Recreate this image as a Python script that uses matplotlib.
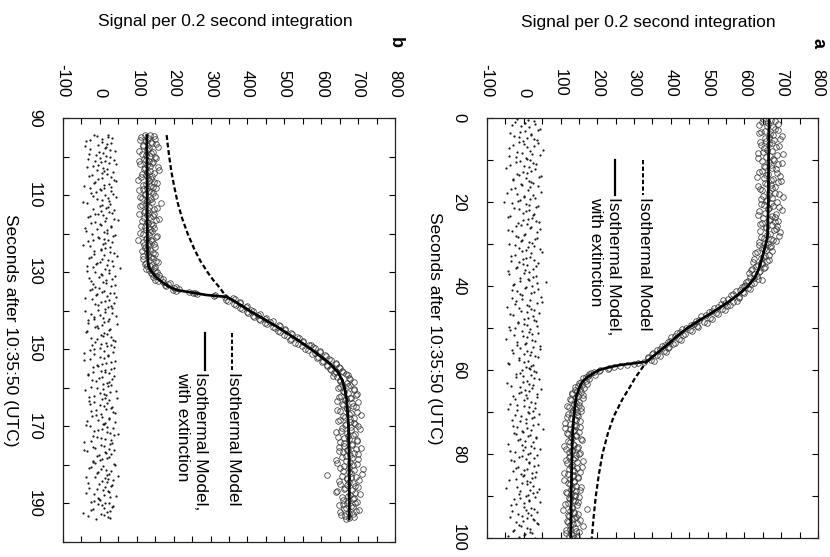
import numpy as np
import matplotlib.pyplot as plt

plt.rcParams['font.family'] = ['Liberation Sans', 'DejaVu Sans']
plt.rcParams['font.size'] = 12.5
plt.rcParams['axes.unicode_minus'] = False

# ---- panel a (immersion), samples every 0.5 s, plus a second set offset by 0.25 s
t_a = np.arange(0.5, 100.01, 0.5)
t_a2 = t_a - 0.25
sig_a = [
    672, 648, 690, 661, 683, 655, 640, 679, 668, 697,
    659, 676, 644, 687, 662, 651, 705, 670, 638, 681,
    666, 692, 653, 674, 647, 689, 660, 635, 678, 699,
    657, 671, 684, 642, 666, 693, 650, 675, 662, 688,
    645, 679, 667, 701, 656, 638, 682, 670, 691, 649,
    674, 660, 686, 643, 669, 695, 652, 677, 640, 664,
    672, 647, 659, 633, 668, 651, 626, 662, 645, 637,
    655, 621, 643, 612, 634, 626, 648, 603, 618, 598,
    611, 588, 597, 570, 586, 556, 579, 548, 560, 528,
    540, 511, 522, 495, 507, 476, 490, 462, 471, 440,
    452, 425, 438, 410, 421, 398, 412, 385, 396, 370,
    381, 352, 362, 338, 345, 328, 300, 262, 232, 208,
    192, 178, 176, 160, 168, 150, 158, 139, 152, 146,
    131, 160, 142, 125, 149, 138, 118, 155, 133, 144,
    120, 148, 129, 141, 113, 137, 152, 126, 134, 117,
    142, 128, 156, 121, 135, 110, 146, 131, 124, 150,
    127, 139, 115, 144, 130, 158, 122, 136, 109, 133,
    148, 125, 137, 119, 142, 131, 154, 116, 128, 140,
    123, 135, 147, 112, 130, 171, 126, 138, 120, 143,
    131, 118, 146, 127, 139, 114, 150, 129, 122, 136,
]
sig_a2 = [
    651, 684, 663, 639, 677, 692, 646, 669, 702, 657,
    681, 643, 667, 695, 652, 674, 636, 688, 660, 678,
    649, 703, 671, 656, 685, 641, 664, 697, 653, 673,
    690, 661, 637, 676, 648, 682, 668, 704, 645, 659,
    671, 654, 694, 663, 640, 687, 675, 650, 666, 683,
    642, 689, 658, 680, 698, 662, 646, 671, 685, 655,
    641, 669, 652, 676, 630, 657, 644, 666, 623, 649,
    632, 654, 618, 641, 627, 615, 636, 609, 625, 601,
    594, 615, 578, 599, 563, 585, 541, 568, 537, 552,
    518, 546, 503, 528, 481, 512, 469, 497, 455, 474,
    430, 458, 416, 433, 401, 428, 392, 405, 377, 391,
    362, 388, 349, 371, 339, 355, 310, 281, 246, 229,
    205, 184, 193, 170, 178, 155, 171, 147, 163, 140,
    155, 132, 147, 162, 128, 141, 150, 124, 139, 157,
    130, 145, 118, 139, 153, 127, 142, 111, 136, 149,
    119, 143, 132, 158, 125, 138, 147, 114, 130, 153,
    141, 122, 135, 161, 118, 129, 145, 134, 152, 120,
    133, 147, 110, 138, 125, 156, 129, 143, 117, 139,
    150, 126, 139, 121, 145, 132, 107, 137, 148, 124,
    138, 152, 119, 134, 160, 127, 141, 115, 133, 144,
]
bkg_a = [
    12, -25, 31, -8, 44, 3, -37, 19, -14, 27,
    -3, 38, -29, 8, 52, -18, 23, -41, 5, 16,
    -22, 34, 0, -47, 21, 9, -12, 41, -30, 14,
    26, -6, 17, -35, 48, -19, 2, 30, -10, -53,
    7, 39, -27, 15, -2, 24, -44, 11, 33, -16,
    -8, 20, 45, -31, 4, -21, 36, -5, 13, -39,
    29, -13, 6, 50, -24, 18, -1, -34, 40, 10,
    -17, 25, -42, 1, 32, -9, 15, 61, -26, 22,
    3, -33, 28, -11, 46, -4, -20, 35, 8, -45,
    19, -7, 42, -28, 11, 27, -15, 0, 37, -23,
    -36, 14, 23, -2, -49, 31, 6, -18, 26, 44,
    9, -30, 17, 38, -12, 2, -40, 21, 13, -6,
    33, -21, -3, 28, 10, -46, 24, -9, 47, 15,
    -14, 5, 36, -25, 19, -38, 1, 30, -17, 12,
    41, -8, 22, -32, 7, 25, -19, 53, -4, -27,
    16, 34, -11, 4, -43, 20, 29, -1, -24, 11,
    -6, 27, -35, 14, 39, -16, 8, -28, 23, 2,
    31, -20, 10, -5, 24, -48, 18, 37, -13, 6,
    -9, 15, 43, -22, 1, 28, -31, 12, 20, -38,
    25, -2, 35, -14, 9, -26, 17, 4, -44, 30,
]
bkg_a2 = [
    -18, 27, 4, -33, 15, 38, -9, 21, -26, 10,
    35, -14, 2, 29, -40, 17, -5, 43, -21, 8,
    -11, 24, -36, 13, 31, -2, -19, 46, 6, -28,
    20, -7, 39, -24, 11, -45, 26, 0, 18, -15,
    -31, 14, 33, -12, 5, 28, -38, 22, -3, 41,
    9, -20, 16, -43, 37, 1, -16, 30, -8, 23,
    -25, 12, 44, -6, 19, -34, 7, 27, -13, -2,
    32, -22, 3, 15, -39, 25, 11, -10, 36, -29,
    6, 40, -17, 21, -4, -32, 18, 49, -23, 13,
    -12, 29, 8, -37, 24, 2, 34, -15, 10, -41,
    17, -5, 38, -27, 9, 22, -19, 3, 45, -10,
    -33, 20, 1, 30, -14, 11, -42, 26, 7, 16,
    28, -9, 19, -21, 42, -3, 13, -35, 23, 4,
    -7, 36, -29, 10, 1, 31, -18, 15, -44, 25,
    14, -24, 27, 5, -11, 39, -30, 8, 21, -1,
    -20, 11, 34, -16, 26, -6, 3, 44, -36, 18,
    37, -13, 7, -27, 15, 29, -22, 0, 32, -8,
    -3, 22, -40, 17, 9, -19, 41, -11, 24, 12,
    30, -26, 13, 2, -34, 20, 6, 35, -15, -4,
    10, 27, -21, 38, -7, 16, -30, 23, 1, -12,
]
# isothermal model with extinction
ta_ext = [0.5, 10, 20, 28, 30, 32, 34, 36, 38, 40, 42, 44, 46, 48, 50, 52, 54,
          56, 57, 58, 58.4, 58.8, 59.3, 59.8, 60.3, 60.8, 61.5, 62.3, 63, 64,
          66, 68, 71, 75, 80, 90, 100]
sa_ext = [667, 666, 665, 663, 658, 652, 646, 639, 628, 610, 584, 553, 518, 481,
          445, 416, 390, 362, 348, 334, 300, 262, 235, 212, 198, 189, 176, 165,
          158, 152, 144, 140, 136, 133, 131, 129, 128]
# isothermal model
ta_iso = [0.5, 10, 20, 28, 30, 32, 34, 36, 38, 40, 42, 44, 46, 48, 50, 52, 54,
          56, 57, 58, 60, 62, 64, 67, 71, 75, 80, 85, 90, 95, 100]
sa_iso = [667, 666, 665, 663, 658, 652, 646, 639, 628, 610, 584, 553, 518, 481,
          445, 416, 390, 362, 348, 334, 318, 302, 289, 268, 245, 229, 214, 204,
          196, 190, 185]

# ---- panel b (emersion), samples every 0.5 s from 94.5 s, second set offset by 0.25 s
t_b = np.arange(94.5, 194.01, 0.5)
t_b2 = t_b - 0.25
sig_b = [
    135, 112, 149, 124, 141, 118, 157, 130, 106, 139,
    126, 150, 119, 133, 145, 108, 137, 122, 160, 129,
    115, 142, 131, 103, 147, 125, 136, 153, 117, 132,
    144, 121, 110, 138, 127, 165, 114, 134, 148, 123,
    130, 107, 143, 119, 152, 128, 139, 111, 146, 125,
    136, 118, 155, 129, 104, 141, 133, 120, 149, 127,
    113, 145, 130, 138, 116, 151, 124, 140, 128, 146,
    132, 156, 141, 151, 162, 149, 172, 185, 178, 201,
    198, 242, 258, 312, 338, 365, 347, 380, 368, 396,
    385, 414, 401, 429, 418, 447, 433, 461, 452, 489,
    475, 502, 489, 521, 508, 540, 516, 551, 537, 566,
    578, 555, 597, 583, 611, 592, 622, 604, 639, 616,
    648, 625, 657, 641, 668, 633, 676, 650, 689, 656,
    672, 645, 690, 661, 698, 654, 679, 666, 642, 684,
    659, 693, 670, 651, 682, 707, 664, 677, 646, 688,
    668, 700, 657, 681, 639, 692, 673, 662, 696, 650,
    684, 663, 709, 671, 647, 690, 678, 655, 699, 667,
    643, 686, 674, 712, 659, 680, 615, 694, 669, 702,
    676, 652, 691, 665, 683, 641, 705, 672, 688, 658,
    697, 670, 649, 685, 661, 694, 676, 654, 689, 667,
]
sig_b2 = [
    122, 146, 131, 109, 138, 152, 117, 134, 128, 143,
    113, 137, 151, 124, 106, 140, 129, 158, 120, 135,
    147, 126, 111, 139, 132, 155, 118, 144, 127, 105,
    138, 121, 150, 114, 133, 142, 126, 109, 154, 131,
    119, 148, 127, 136, 161, 115, 130, 145, 123, 137,
    142, 110, 134, 153, 125, 139, 116, 147, 131, 121,
    135, 128, 150, 117, 144, 133, 158, 122, 137, 149,
    125, 150, 138, 161, 145, 170, 158, 189, 176, 205,
    214, 205, 252, 263, 309, 361, 342, 379, 364, 398,
    381, 410, 398, 433, 415, 451, 432, 470, 447, 486,
    468, 503, 482, 519, 498, 533, 517, 551, 528, 571,
    549, 584, 563, 598, 575, 613, 588, 627, 601, 641,
    615, 651, 626, 660, 635, 672, 644, 679, 651, 671,
    677, 650, 688, 658, 673, 694, 647, 681, 665, 700,
    655, 686, 669, 643, 697, 674, 660, 688, 651, 679,
    692, 664, 680, 705, 653, 671, 687, 646, 676, 698,
    661, 683, 649, 693, 672, 658, 701, 666, 684, 640,
    679, 696, 663, 651, 688, 674, 710, 657, 681, 669,
    648, 685, 670, 699, 662, 644, 691, 678, 655, 686,
    673, 692, 658, 680, 667, 703, 652, 687, 664, 676,
]
bkg_b = [
    -15, 22, 5, -38, 31, -4, 17, -26, 40, 8,
    -11, 28, -33, 13, 2, 45, -20, 9, -7, 35,
    19, -29, 6, 37, -14, 24, -42, 11, 0, 30,
    -23, 14, 43, -9, 26, -36, 7, 21, -18, 3,
    33, -5, -27, 16, 48, -12, 1, 29, -39, 18,
    10, -21, 36, -3, 23, -31, 15, -46, 27, 4,
    -16, 39, 12, -25, 7, 34, -8, 20, -35, 55,
    25, -13, 2, 41, -30, 17, 9, -19, 31, -2,
    -28, 6, 27, -10, 44, -22, 13, 38, -6, 21,
    15, -40, 32, 0, -17, 26, -33, 11, 47, -9,
    -4, 24, -37, 18, 8, -24, 35, -12, 3, 29,
    37, -15, 10, -44, 22, 1, -26, 42, 16, -7,
    -19, 30, 4, 14, -32, 39, -3, -21, 25, 9,
    23, -8, -41, 28, 12, -16, 46, 5, -29, 19,
    -1, 33, 17, -23, 40, -11, 6, 26, -36, 13,
    8, -27, 35, -5, 20, 50, -18, 2, 31, -43,
    27, 11, -14, 38, -34, 16, -2, 24, 7, -20,
    -12, 42, -25, 3, 29, -9, 19, -38, 14, 36,
    20, -3, 31, -30, 9, 25, -15, 43, -6, 1,
    -24, 15, 6, 34, -18, 28, -45, 12, 22, -10,
]
bkg_b2 = [
    21, -9, 34, -27, 6, 18, -40, 13, 27, -3,
    -30, 16, 1, 39, -13, 25, -6, -35, 20, 10,
    7, -22, 29, -4, 43, -16, 12, 31, -28, 2,
    -10, 35, -19, 22, 5, -45, 28, -1, 16, 38,
    26, -14, 9, -32, 37, 14, -24, 4, 30, -8,
    -37, 19, 42, -6, 11, -20, 33, 8, -26, 15,
    3, 28, -15, 46, -29, 21, 0, -11, 36, -18,
    13, -34, 24, 7, -2, 32, -23, 17, 41, -12,
    -21, 10, 38, -8, 19, -39, 26, 2, -14, 30,
    34, -5, 15, -25, 44, 9, -17, 23, -31, 6,
    -13, 27, -36, 12, 4, 30, -9, 40, 16, -22,
    18, 1, -28, 35, -15, 22, 11, -42, 29, 7,
    -6, 39, 14, -19, 25, -33, 5, 32, -10, 20,
    29, -24, 8, 45, -1, 17, -30, 13, 24, -16,
    -27, 12, 31, -11, 36, 3, -21, 26, -5, 41,
    11, -38, 20, 6, -16, 28, 38, -9, 15, -25,
    32, 4, -20, 24, -43, 13, 30, -7, 19, 0,
    -18, 37, 9, -29, 16, -4, 25, 48, -12, 22,
    5, -31, 33, 14, -8, 21, -37, 10, 27, -2,
    -15, 24, -6, 36, 12, -23, 18, 3, -33, 28,
]
tb_ext = [94.5, 105, 115, 125, 128, 129, 130, 131, 132, 133, 134, 134.6, 135.2,
          135.9, 136.4, 137, 138, 139, 140, 142, 144, 146, 148, 150, 152, 154,
          156, 158, 160, 163, 170, 180, 194]
sb_ext = [127, 128, 128, 129, 131, 134, 141, 150, 161, 175, 193, 208, 245, 289,
          344, 356, 373, 390, 406, 442, 478, 511, 543, 573, 601, 627, 646, 657,
          663, 669, 674, 676, 676]
tb_iso = [94.4, 97, 100, 104, 108, 112, 116, 120, 124, 127, 130, 132, 134,
          135.5, 136.4, 137, 138, 139, 140, 142, 144, 146, 148, 150, 152, 154,
          156, 158, 160, 163, 170, 180, 194]
sb_iso = [181, 184, 188, 194, 202, 211, 223, 238, 256, 272, 292, 307, 325, 336,
          344, 356, 373, 390, 406, 442, 478, 511, 543, 573, 601, 627, 646, 657,
          663, 669, 674, 676, 676]

xlabel = 'Seconds after 10:35:50 (UTC)'
ylabel = 'Signal per 0.2 second integration'
dash = (0, (2.2, 1.2))

fig = plt.figure(figsize=(8.3, 5.57), dpi=100)
ax_a = fig.add_axes([0.5867, 0.0341, 0.3988, 0.754])
ax_b = fig.add_axes([0.0759, 0.0269, 0.4, 0.761])

panels = [
    (ax_a, np.concatenate([t_a, t_a2]), sig_a + sig_a2, bkg_a + bkg_a2,
     ta_ext, sa_ext, ta_iso, sa_iso, (100, 0),
     np.arange(0, 101, 20), np.arange(10, 100, 20), 'a'),
    (ax_b, np.concatenate([t_b, t_b2]), sig_b + sig_b2, bkg_b + bkg_b2,
     tb_ext, sb_ext, tb_iso, sb_iso, (200, 90),
     np.arange(90, 191, 20), np.arange(100, 201, 20), 'b'),
]

for ax, t, sig, bkg, te, se, ti, si, ylim, yt, ytm, letter in panels:
    # rotated chart: signal runs across, time runs down
    ax.plot(bkg, t, 'o', ms=1.6, mew=0, color='#1a1a1a')
    ax.plot(sig, t, 'o', ms=4.0, mfc='none', mec='#3a3a3a', mew=0.55)
    ax.plot(si, ti, color='k', lw=1.6, ls=dash)
    ax.plot(se, te, color='k', lw=1.9)

    ax.set_xlim(-100, 800)
    ax.set_ylim(*ylim)
    ax.set_xticks(np.arange(-100, 801, 100))
    ax.set_xticks(np.arange(-50, 800, 100), minor=True)
    ax.set_yticks(yt)
    ax.set_yticks(ytm, minor=True)
    ax.tick_params(axis='both', which='both', direction='in', length=4.5,
                   width=0.8, top=True, bottom=True, left=True, right=True,
                   labelrotation=-90, pad=15, labelsize=12)
    ax.tick_params(axis='x', labeltop=True, labelbottom=False)
    for lab in ax.get_yticklabels():
        lab.set_verticalalignment('center')
    for sp in ax.spines.values():
        sp.set_linewidth(0.9)
        sp.set_color('#222222')

    ax.text(-0.157, 0.5, xlabel, rotation=-90, ha='center', va='center',
            transform=ax.transAxes)
    ax.text(0.488, 1.228, ylabel, ha='center', va='center',
            transform=ax.transAxes)
    ax.text(1.0, 1.178, letter, rotation=-90, ha='center', va='center',
            fontweight='bold', fontsize=13, transform=ax.transAxes)

# legends, drawn by hand because the whole figure is turned on its side
leg = {'a': (ax_a, 0.471, 0.387, 0.900, 0.817, 0.356),
       'b': (ax_b, 0.508, 0.428, 0.493, 0.406, 0.387)}
for key in leg:
    ax, xd, xs, y0, y1, xt2 = leg[key]
    ax.plot([xd, xd], [y0, y1], color='k', lw=1.4, ls=dash,
            transform=ax.transAxes)
    ax.plot([xs, xs], [y0, y1], color='k', lw=1.6, transform=ax.transAxes)
    ax.text(xd + 0.006, y1 - 0.004, 'Isothermal Model', rotation=-90,
            ha='center', va='top', transform=ax.transAxes)
    ax.text(xt2, y1 - 0.004, 'Isothermal Model,\nwith extinction',
            rotation=-90, ha='center', va='top', multialignment='left',
            linespacing=1.25, transform=ax.transAxes)

fig.savefig('out.png', dpi=100)
